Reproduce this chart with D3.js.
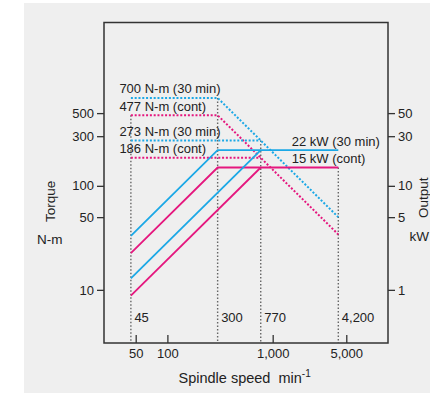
<!DOCTYPE html>
<html>
<head>
<meta charset="utf-8">
<script src="https://cdn.jsdelivr.net/npm/d3@7"></script>
<style>
  html, body { margin: 0; padding: 0; background: #ffffff; }
  svg { display: block; }
  text { font-family: "Liberation Sans", Arial, Helvetica, sans-serif; fill: #222; }
</style>
</head>
<body>
<svg id="chart" width="430" height="393"></svg>
<script>
// ---------------- data ----------------
const refSpeeds = [45, 300, 770, 4200];            // min-1, marked speeds
const refSpeedLabels = ["45", "300", "770", "4,200"];
const refTopTorque = [477, 700, 273, 150];          // top end of each reference line (torque-scale value)

const xTicks = [50, 100, 1000, 5000];
const xTickLabels = ["50", "100", "1,000", "5,000"];
const torqueTicks = [10, 50, 100, 300, 500];
const outputTicks = [1, 5, 10, 30, 50];

// torque curves (N-m) : [speed, torque]
const torque30A = [[45, 700], [300, 700], [4200, 50]];
const torqueContA = [[45, 477], [300, 477], [4200, 34.1]];
const torque30B = [[45, 273], [770, 273]];
const torqueContB = [[45, 186], [770, 186]];

// output curves (kW) : [speed, power]
const output30A = [[45, 3.3], [300, 22], [4200, 22]];
const outputContA = [[45, 2.25], [300, 15], [4200, 15]];
const output30B = [[45, 1.29], [770, 22]];
const outputContB = [[45, 0.88], [770, 15]];

const torqueLabels = [
  { text: "700 N-m (30 min)", v: 700 },
  { text: "477 N-m (cont)", v: 477 },
  { text: "273 N-m (30 min)", v: 273 },
  { text: "186 N-m (cont)", v: 186 }
];
const outputLabels = [
  { text: "22 kW (30 min)", v: 22 },
  { text: "15 kW (cont)", v: 15 }
];

// ---------------- layout ----------------
const BLUE = "#1ba8e6", MAG = "#e5177e", GRID = "#666", AXIS = "#333";
const L = 104, R = 388, T = 22.5, B = 343;

const svg = d3.select("#chart");
svg.append("rect").attr("x", 24).attr("y", 3).attr("width", 406).attr("height", 390).attr("fill", "#efefef");

const x = d3.scaleLog().domain([25, 12450]).range([L, R]);
const y = d3.scaleLog().domain([3.03, 3650]).range([B + 0.8, T + 0.8]);
const yOut = d3.scaleLog().domain([0.303, 365]).range([B + 0.8, T + 0.8]);

// reference vertical dotted lines
svg.append("g").selectAll("line").data(refSpeeds).join("line")
  .attr("x1", d => x(d)).attr("x2", d => x(d))
  .attr("y1", (d, i) => y(refTopTorque[i])).attr("y2", B)
  .attr("stroke", GRID).attr("stroke-width", 1.4).attr("stroke-dasharray", "1.5,2");

svg.append("g").selectAll("text").data(refSpeeds).join("text")
  .attr("x", d => x(d) + 3.5).attr("y", 322)
  .attr("font-size", 13)
  .text((d, i) => refSpeedLabels[i]);

const lineT = d3.line().x(d => x(d[0])).y(d => y(d[1]));
const lineP = d3.line().x(d => x(d[0])).y(d => yOut(d[1]));

// torque (dotted)
[[torque30A, BLUE], [torqueContA, MAG], [torque30B, BLUE], [torqueContB, MAG]].forEach(([data, c]) => {
  svg.append("path").attr("d", lineT(data)).attr("fill", "none")
    .attr("stroke", c).attr("stroke-width", 2).attr("stroke-dasharray", "2,1.8");
});
// output (solid)
[[output30A, BLUE], [outputContA, MAG], [output30B, BLUE], [outputContB, MAG]].forEach(([data, c]) => {
  svg.append("path").attr("d", lineP(data)).attr("fill", "none")
    .attr("stroke", c).attr("stroke-width", 1.8);
});

// labels
svg.append("g").selectAll("text").data(torqueLabels).join("text")
  .attr("x", x(45) - 11.5).attr("y", d => y(d.v) - 4.5)
  .attr("font-size", 13)
  .text(d => d.text);
svg.append("g").selectAll("text").data(outputLabels).join("text")
  .attr("x", x(770) + 31).attr("y", d => yOut(d.v) - 4.5)
  .attr("font-size", 13)
  .text(d => d.text);

// frame
svg.append("rect").attr("x", L).attr("y", T).attr("width", R - L).attr("height", B - T)
  .attr("fill", "none").attr("stroke", AXIS).attr("stroke-width", 1.5);

// left axis
const gl = svg.append("g").attr("transform", `translate(${L},0)`)
  .call(d3.axisLeft(y).tickValues(torqueTicks).tickFormat(d3.format("d")).tickSize(7).tickPadding(3));
// right axis
const gr = svg.append("g").attr("transform", `translate(${R},0)`)
  .call(d3.axisRight(yOut).tickValues(outputTicks).tickFormat(d3.format("d")).tickSize(7).tickPadding(3));
// bottom axis (inward ticks)
const gb = svg.append("g").attr("transform", `translate(0,${B})`)
  .call(d3.axisBottom(x).tickValues(xTicks).tickFormat((d, i) => xTickLabels[i]).tickSize(-8).tickPadding(4));
gb.selectAll("text").attr("dy", 0).attr("y", 15);

[gl, gr, gb].forEach(g => {
  g.select(".domain").remove();
  g.selectAll(".tick line").attr("stroke", AXIS).attr("stroke-width", 1.3);
  g.selectAll(".tick text").attr("font-size", 13)
    .attr("font-family", "Liberation Sans, Arial, sans-serif").attr("fill", "#222");
});

// axis titles
svg.append("text").attr("transform", "translate(55,222) rotate(-90)")
  .attr("font-size", 13.5).text("Torque");
svg.append("text").attr("x", 37).attr("y", 243.5)
  .attr("font-size", 13.5).text("N-m");
svg.append("text").attr("transform", "translate(428,218) rotate(-90)")
  .attr("font-size", 13.5).text("Output");
svg.append("text").attr("x", 409.5).attr("y", 240.5)
  .attr("font-size", 13.5).text("kW");

const xt = svg.append("text").attr("x", 178.5).attr("y", 382.5)
  .attr("font-size", 14.5);
xt.append("tspan").text("Spindle speed\u00A0\u00A0min");
xt.append("tspan").attr("dy", -6).attr("font-size", 10).text("-1");
</script>
</body>
</html>
